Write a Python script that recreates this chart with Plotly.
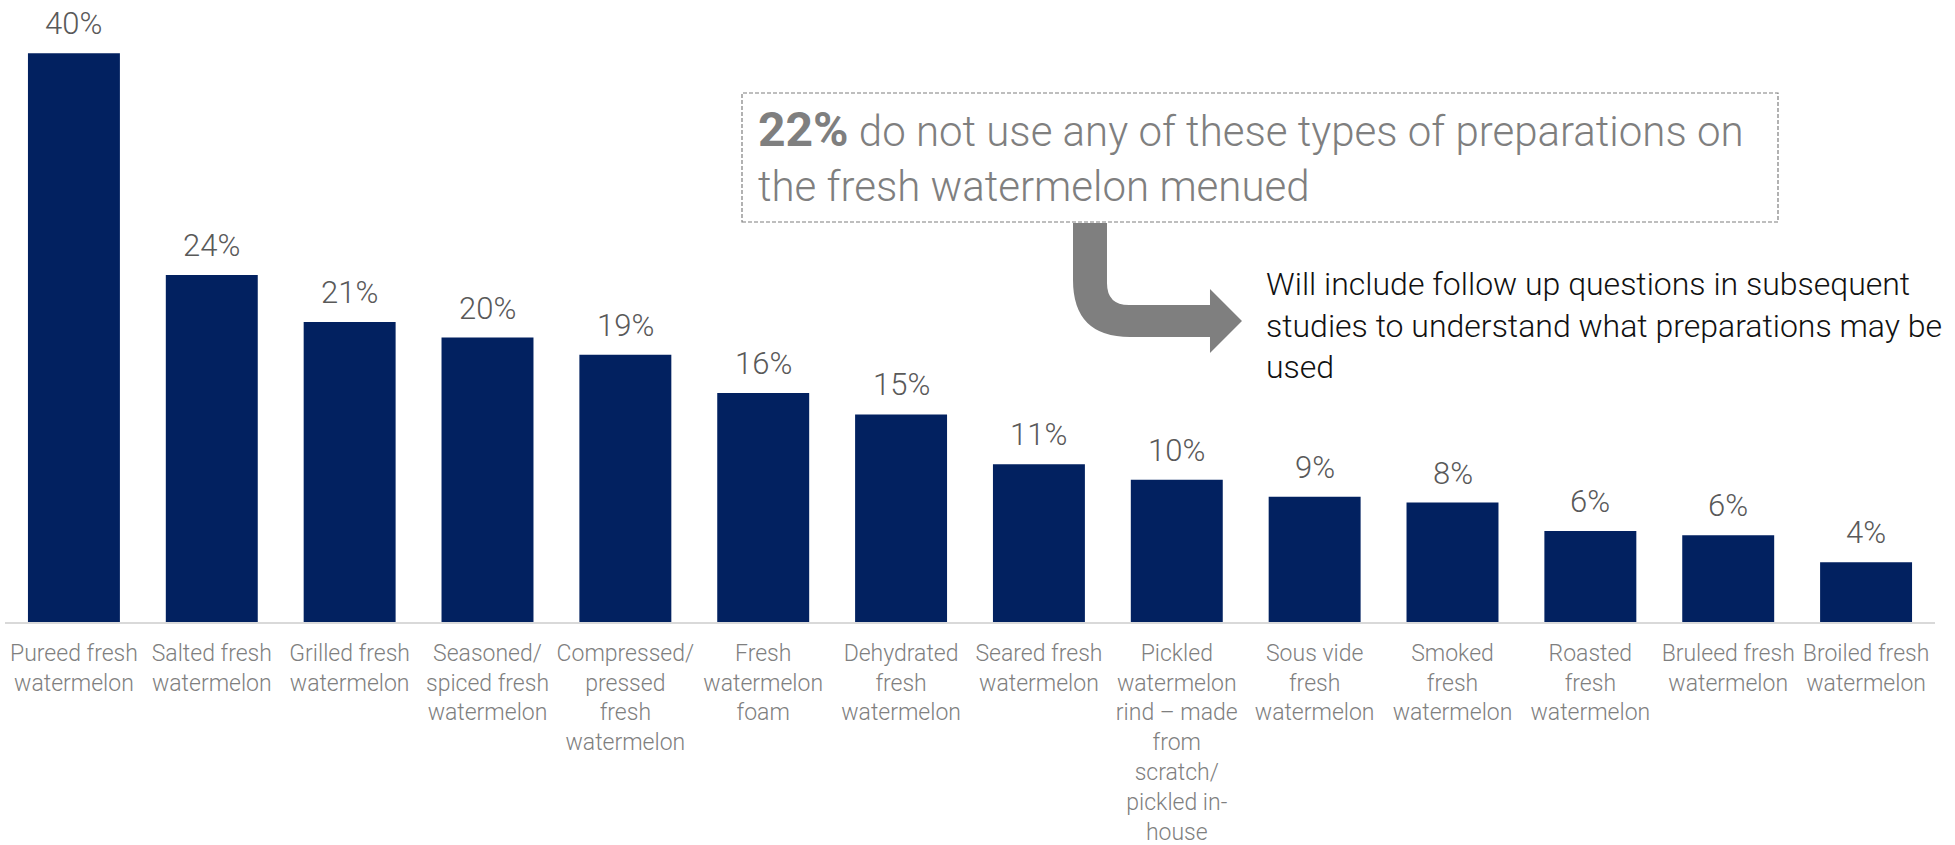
import plotly.graph_objects as go

# Share of operators using each preparation of fresh watermelon (%)
categories = [
    "Pureed fresh<br>watermelon",
    "Salted fresh<br>watermelon",
    "Grilled fresh<br>watermelon",
    "Seasoned/<br>spiced fresh<br>watermelon",
    "Compressed/<br>pressed<br>fresh<br>watermelon",
    "Fresh<br>watermelon<br>foam",
    "Dehydrated<br>fresh<br>watermelon",
    "Seared fresh<br>watermelon",
    "Pickled<br>watermelon<br>rind – made<br>from<br>scratch/<br>pickled in-<br>house",
    "Sous vide<br>fresh<br>watermelon",
    "Smoked<br>fresh<br>watermelon",
    "Roasted<br>fresh<br>watermelon",
    "Bruleed fresh<br>watermelon",
    "Broiled fresh<br>watermelon",
]
shares = [40.0, 24.4, 21.1, 20.0, 18.8, 16.1, 14.6, 11.1, 10.0, 8.8, 8.4, 6.4, 6.1, 4.2]

none_share = 22
note_text = "do not use any of these types of preparations on<br>the fresh watermelon menued"
followup_text = ("Will include follow up questions in subsequent<br>"
                 "studies to understand what preparations may be<br>used")

W, H = 1955, 845
PLOT_L, PLOT_R = 5, 1935      # plot area, px
PLOT_T, PLOT_B = 0, 622
PX_PER_PCT = 14.22

FONT = "Roboto"
NAVY = "#022160"
GREY = "#7f7f7f"


def px_x(x):
    return (x - PLOT_L) / (PLOT_R - PLOT_L)


def px_y(y):
    return (PLOT_B - y) / (PLOT_B - PLOT_T)


xs = list(range(len(categories)))

fig = go.Figure(
    go.Bar(
        x=xs,
        y=shares,
        marker=dict(color=NAVY, line=dict(width=0)),
        hoverinfo="skip",
    )
)

# Value labels above each bar
for x, v in zip(xs, shares):
    fig.add_annotation(
        x=x, y=v, xref="x", yref="y", text=f"{v:.0f}%",
        yanchor="bottom", yshift=9, showarrow=False,
        font=dict(family=FONT, size=31, color="#595959", weight=300),
    )

# Dashed call-out box
fig.add_shape(
    type="rect", xref="paper", yref="paper",
    x0=px_x(742), x1=px_x(1778), y0=px_y(222), y1=px_y(93),
    line=dict(color=GREY, width=1.2, dash="4px,2px"),
    fillcolor="rgba(0,0,0,0)",
)

# Bent arrow from the box to the follow-up note
pts = [
    ("M", 1073, 223), ("L", 1107, 223), ("L", 1107, 283),
    ("Q", 1107, 305, 1129, 305), ("L", 1210, 305), ("L", 1210, 289),
    ("L", 1242, 321), ("L", 1210, 353), ("L", 1210, 337), ("L", 1130, 337),
    ("Q", 1073, 337, 1073, 280),
]
path = ""
for seg in pts:
    cmd, coords = seg[0], seg[1:]
    xy = []
    for i in range(0, len(coords), 2):
        xy.append(f"{px_x(coords[i]):.5f},{px_y(coords[i + 1]):.5f}")
    path += cmd + " " + " ".join(xy) + " "
path += "Z"
fig.add_shape(type="path", xref="paper", yref="paper", path=path,
              fillcolor=GREY, line=dict(width=0))

fig.add_annotation(
    xref="paper", yref="paper", x=px_x(756), y=px_y(99),
    xanchor="left", yanchor="top", align="left", showarrow=False,
    text=(f"<span style='font-size:48px;font-weight:bold'>{none_share}%</span> "
          + note_text),
    font=dict(family=FONT, size=42, color=GREY, weight=300),
)

fig.add_annotation(
    xref="paper", yref="paper", x=px_x(1264), y=px_y(263),
    xanchor="left", yanchor="top", align="left", showarrow=False,
    text=followup_text,
    font=dict(family=FONT, size=32, color="#111111", weight=300),
)

fig.update_layout(
    width=W, height=H,
    margin=dict(l=PLOT_L, r=W - PLOT_R, t=PLOT_T, b=H - PLOT_B, pad=0),
    paper_bgcolor="white", plot_bgcolor="white",
    bargap=0.333,
    showlegend=False,
    xaxis=dict(
        tickmode="array", tickvals=xs, ticktext=categories,
        range=[-0.5, len(categories) - 0.5],
        tickangle=0, ticks="", showgrid=False, zeroline=False,
        showline=True, linecolor="#d9d9d9", linewidth=2,
        ticklabelstandoff=9,
        tickfont=dict(family=FONT, size=23, color=GREY, weight=300),
        fixedrange=True,
    ),
    yaxis=dict(
        range=[0, (PLOT_B - PLOT_T) / PX_PER_PCT],
        visible=False, showgrid=False, zeroline=False, fixedrange=True,
    ),
)

fig.write_html("out.html", config={"displayModeBar": False})
